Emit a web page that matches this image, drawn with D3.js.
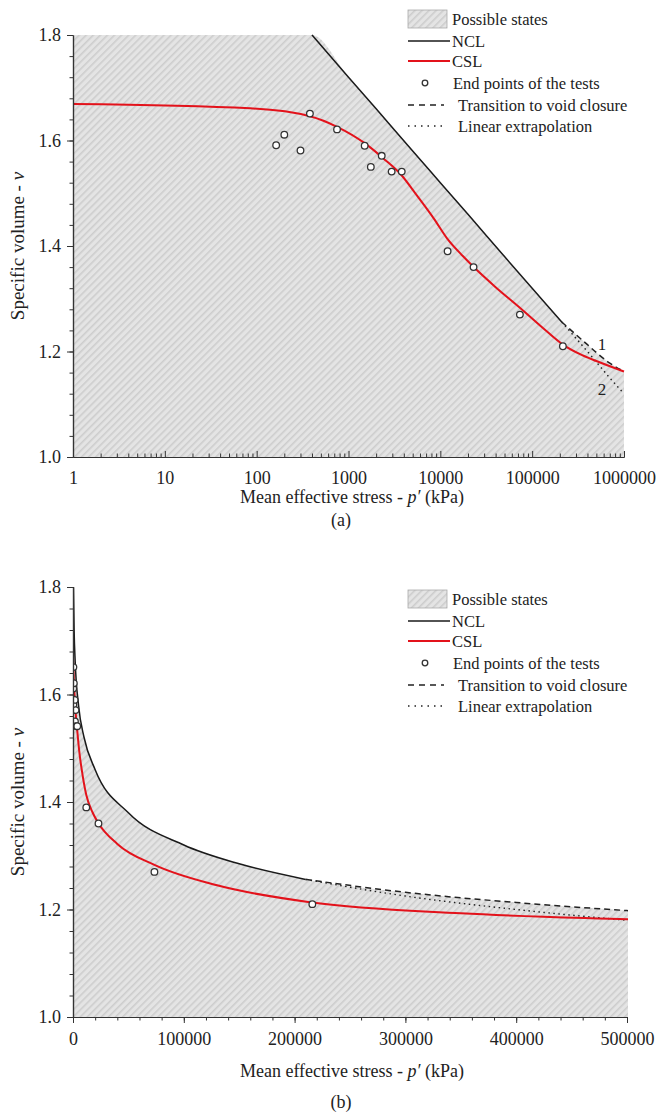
<!DOCTYPE html>
<html>
<head>
<meta charset="utf-8">
<script src="https://cdn.jsdelivr.net/npm/d3@7"></script>
<style>
  body { margin: 0; background: #fff; }
  svg text { font-family: "Liberation Serif", "Times New Roman", serif; fill: #222; }
</style>
</head>
<body>
<div id="chart"></div>
<script>
// ---- data ----
// normal compression line, p' (kPa) and specific volume
var nclP = [400, 1000, 2000, 5000, 10000, 20000, 50000, 100000, 150000, 210000];
var nclV = [1.8, 1.72, 1.66, 1.58, 1.52, 1.46, 1.38, 1.32, 1.285, 1.256];
// critical state line
var cslP = [1, 85, 380, 750, 1500, 2400, 3700, 5600, 8500, 12000, 17800, 22500, 40000, 73500, 130000, 216000, 350000, 500000, 1000000];
var cslV = [1.669, 1.661, 1.646, 1.626, 1.595, 1.566, 1.536, 1.495, 1.452, 1.413, 1.38, 1.362, 1.322, 1.283, 1.245, 1.213, 1.193, 1.182, 1.162];
// transition to void closure (dashed)
var transP = [210000, 300000, 400000, 500000, 700000, 1000000];
var transV = [1.256, 1.232, 1.213, 1.198, 1.178, 1.162];
// linear extrapolation of the NCL (dotted)
var extrapP = [210000, 300000, 400000, 500000, 700000, 1000000];
var extrapV = [1.256, 1.225, 1.2, 1.18, 1.15, 1.12];
// end points of the tests
var testP = [163, 200, 300, 380, 750, 1500, 1750, 2300, 2950, 3800, 12000, 23000, 73500, 216000];
var testV = [1.591, 1.611, 1.581, 1.651, 1.621, 1.59, 1.55, 1.571, 1.541, 1.541, 1.39, 1.36, 1.27, 1.21];

var logTicks = [1, 10, 100, 1000, 10000, 100000, 1000000];
var linTicks = [0, 100000, 200000, 300000, 400000, 500000];
var vTicks = [1.0, 1.2, 1.4, 1.6, 1.8];

var legendItems = ["Possible states", "NCL", "CSL", "End points of the tests", "Transition to void closure", "Linear extrapolation"];

function zip(a, b) { return a.map(function(d, i) { return [d, b[i]]; }); }
var ncl = zip(nclP, nclV), csl = zip(cslP, cslV), trans = zip(transP, transV),
    extrap = zip(extrapP, extrapV), tests = zip(testP, testV);
// upper boundary of the possible states
var boundary = [[1, 1.8]].concat(ncl, trans.slice(1));

var W = 663, H = 1119;
var svg = d3.select("#chart").append("svg").attr("width", W).attr("height", H);

var defs = svg.append("defs");
var pat = defs.append("pattern").attr("id", "hatch").attr("patternUnits", "userSpaceOnUse")
  .attr("width", 5).attr("height", 5).attr("patternTransform", "rotate(45)");
pat.append("rect").attr("width", 5).attr("height", 5).attr("fill", "#e4e4e4");
pat.append("rect").attr("width", 1.6).attr("height", 5).attr("fill", "#cdcdcd");

var RED = "#e3121b";

function drawPanel(cfg) {
  var g = svg.append("g");
  var x = cfg.x, y = cfg.y;
  var curve = d3.curveMonotoneX;
  var x0 = x.range()[0], x1 = x.range()[1], y0 = y.range()[0], y1 = y.range()[1];

  defs.append("clipPath").attr("id", cfg.id).append("rect")
    .attr("x", x0).attr("y", y1 - 4).attr("width", x1 - x0 + 1).attr("height", y0 - y1 + 4);
  var plot = g.append("g").attr("clip-path", "url(#" + cfg.id + ")");

  plot.append("path").datum(boundary)
    .attr("fill", "url(#hatch)")
    .attr("d", d3.area().curve(curve).x(function(d) { return x(d[0]); })
      .y0(y0).y1(function(d) { return y(Math.min(1.8, d[1])); }));

  var line = d3.line().curve(curve).x(function(d) { return x(d[0]); }).y(function(d) { return y(d[1]); });

  plot.append("path").datum(extrap).attr("fill", "none").attr("stroke", "#222")
    .attr("stroke-width", 1.4).attr("stroke-dasharray", "1.5,3.5").attr("d", line);
  plot.append("path").datum(trans).attr("fill", "none").attr("stroke", "#222")
    .attr("stroke-width", 1.5).attr("stroke-dasharray", "6,4").attr("d", line);
  plot.append("path").datum(ncl).attr("fill", "none").attr("stroke", "#1a1a1a")
    .attr("stroke-width", 1.5).attr("d", line);
  plot.append("path").datum(csl).attr("fill", "none").attr("stroke", RED)
    .attr("stroke-width", 2).attr("d", line);

  plot.selectAll("circle.pt").data(tests).enter().append("circle").attr("class", "pt")
    .attr("cx", function(d) { return x(d[0]); }).attr("cy", function(d) { return y(d[1]); })
    .attr("r", 3.3).attr("fill", "#fff").attr("stroke", "#333").attr("stroke-width", 1.3);

  // axes
  var xa = g.append("g").attr("transform", "translate(0," + y0 + ")");
  var xMajor = d3.axisBottom(x).tickValues(cfg.xTicks).tickFormat(d3.format("d"))
    .tickSize(cfg.xTickIn ? -6 : 6).tickPadding(cfg.xTickIn ? 14 : 9).tickSizeOuter(0);
  var xMinor = d3.axisBottom(x).tickValues(cfg.xMinor).tickFormat("").tickSize(cfg.xTickIn ? -3.5 : 3.5).tickSizeOuter(0);
  xa.append("g").call(xMinor);
  xa.append("g").call(xMajor);

  var ya = g.append("g").attr("transform", "translate(" + x0 + ",0)");
  var vMinor = d3.range(1.0, 1.8001, 0.04);
  ya.append("g").call(d3.axisLeft(y).tickValues(vMinor).tickFormat("").tickSize(3.5).tickSizeOuter(0));
  ya.append("g").call(d3.axisLeft(y).tickValues(vTicks).tickFormat(d3.format(".1f")).tickSize(6).tickPadding(6).tickSizeOuter(0));

  g.selectAll(".domain").attr("stroke", "#333").attr("stroke-width", 1.2);
  g.selectAll(".tick line").attr("stroke", "#333");
  g.selectAll(".tick text").style("font-size", "18px").attr("fill", "#222")
    .style("font-family", "'Liberation Serif', serif");

  // axis titles
  var xt = g.append("text").attr("x", 352).attr("y", y0 + cfg.titleDy).attr("text-anchor", "middle").style("font-size", "18px");
  xt.append("tspan").text("Mean effective stress - ");
  xt.append("tspan").style("font-style", "italic").text("p\u2032");
  xt.append("tspan").text(" (kPa)");
  var yt = g.append("text").attr("transform", "translate(24," + ((y0 + y1) / 2) + ") rotate(-90)")
    .attr("text-anchor", "middle").style("font-size", "19px");
  yt.append("tspan").text("Specific volume - ");
  yt.append("tspan").style("font-style", "italic").text("v");
  g.append("text").attr("x", 341).attr("y", y0 + cfg.capDy).attr("text-anchor", "middle").style("font-size", "18px").text(cfg.caption);

  // legend
  var lx = 408, ly = cfg.legendTop;
  var lg = g.append("g");
  lg.append("rect").attr("x", lx).attr("y", ly).attr("width", 39).attr("height", 18)
    .attr("fill", "url(#hatch)").attr("stroke", "#aaa").attr("stroke-width", 0.8);
  var rows = [ly + 9, ly + 31, ly + 51, ly + 73, ly + 95, ly + 116];
  lg.append("line").attr("x1", lx).attr("x2", lx + 42).attr("y1", rows[1]).attr("y2", rows[1]).attr("stroke", "#1a1a1a").attr("stroke-width", 1.6);
  lg.append("line").attr("x1", lx).attr("x2", lx + 42).attr("y1", rows[2]).attr("y2", rows[2]).attr("stroke", RED).attr("stroke-width", 2);
  lg.append("circle").attr("cx", lx + 17).attr("cy", rows[3]).attr("r", 2.8).attr("fill", "#fff").attr("stroke", "#333").attr("stroke-width", 1.3);
  lg.append("line").attr("x1", lx).attr("x2", lx + 36).attr("y1", rows[4]).attr("y2", rows[4]).attr("stroke", "#222").attr("stroke-width", 1.5).attr("stroke-dasharray", "6,5");
  lg.append("line").attr("x1", lx).attr("x2", lx + 36).attr("y1", rows[5]).attr("y2", rows[5]).attr("stroke", "#222").attr("stroke-width", 1.4).attr("stroke-dasharray", "1.5,5");
  var tx = [lx + 44, lx + 44, lx + 44, lx + 45, lx + 50, lx + 50];
  lg.selectAll("text").data(legendItems).enter().append("text")
    .attr("x", function(d, i) { return tx[i]; })
    .attr("y", function(d, i) { return rows[i]; })
    .attr("dy", "0.35em").style("font-size", "16.5px").text(function(d) { return d; });

  if (cfg.log) {
    g.append("text").attr("x", 602).attr("y", y(1.21) + 4).attr("text-anchor", "middle").style("font-size", "17px").text("1");
    g.append("text").attr("x", 602).attr("y", y(1.125) + 4).attr("text-anchor", "middle").style("font-size", "17px").text("2");
  }
}

var minorLog = [];
[1, 10, 100, 1000, 10000, 100000].forEach(function(b) {
  [2, 3, 4, 5, 6, 7, 8, 9].forEach(function(m) { minorLog.push(b * m); });
});
var minorLin = d3.range(0, 500001, 20000);

drawPanel({
  id: "clipA",
  x: d3.scaleLog().domain([1, 1e6]).range([73, 624]),
  y: d3.scaleLinear().domain([1.0, 1.8]).range([457, 35]),
  log: true, xTicks: logTicks, xMinor: minorLog, xTickIn: true,
  titleDy: 46, capDy: 69, caption: "(a)", legendTop: 10
});
drawPanel({
  id: "clipB",
  x: d3.scaleLinear().domain([0, 500000]).range([73, 627]),
  y: d3.scaleLinear().domain([1.0, 1.8]).range([1017, 587]),
  log: false, xTicks: linTicks, xMinor: minorLin, xTickIn: false,
  titleDy: 60, capDy: 91, caption: "(b)", legendTop: 590
});
</script>
</body>
</html>
